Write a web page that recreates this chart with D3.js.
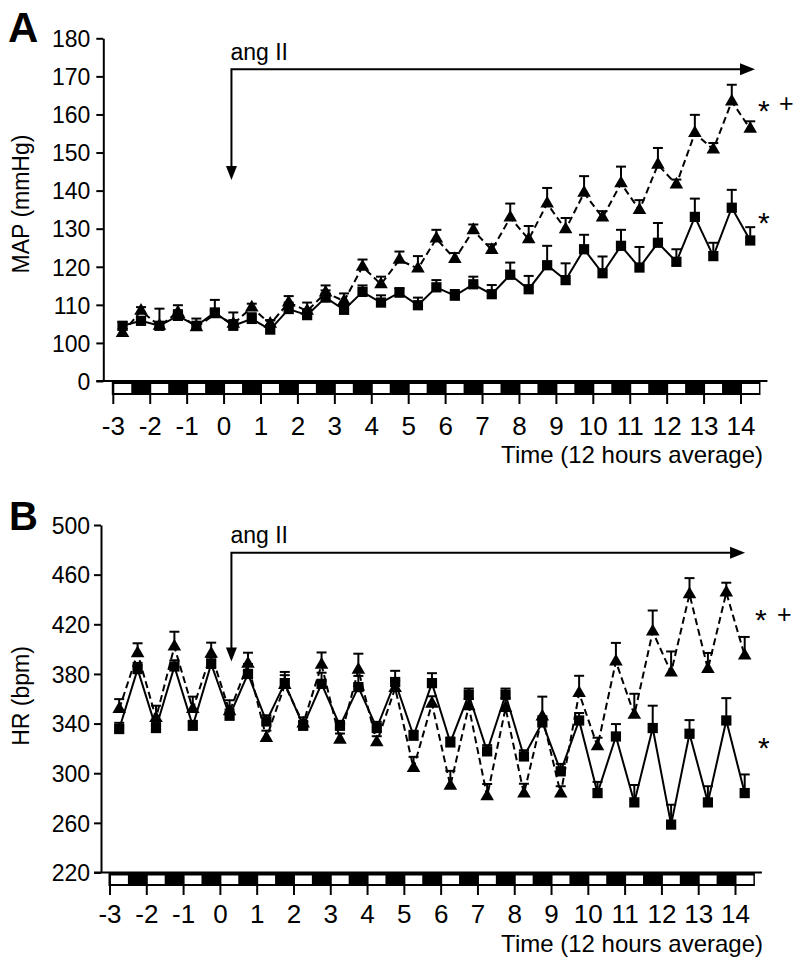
<!DOCTYPE html>
<html><head><meta charset="utf-8">
<script src="https://cdn.jsdelivr.net/npm/d3@7"></script>
<style>
html,body{margin:0;padding:0;background:#fff}
svg{display:block}
text{font-family:"Liberation Sans",Arial,Helvetica,sans-serif;fill:#000}
</style>
</head><body>
<svg id="c" width="800" height="969"></svg>
<script>
// ---- data ----
const timePts = [-2.75,-2.25,-1.75,-1.25,-0.75,-0.25,0.25,0.75,1.25,1.75,2.25,2.75,3.25,3.75,4.25,4.75,5.25,5.75,6.25,6.75,7.25,7.75,8.25,8.75,9.25,9.75,10.25,10.75,11.25,11.75,12.25,12.75,13.25,13.75,14.25];
const dayTicks = [-3,-2,-1,0,1,2,3,4,5,6,7,8,9,10,11,12,13,14];
const dayTickLabels = ["-3","-2","-1","0","1","2","3","4","5","6","7","8","9","10","11","12","13","14"];
const mapTicks = [90,100,110,120,130,140,150,160,170,180];
const mapTickLabels = ["0","100","110","120","130","140","150","160","170","180"];
const hrTicks = [220,260,300,340,380,420,460,500];
const hrTickLabels = ["220","260","300","340","380","420","460","500"];

const mapSquare = [104.5,105.8,104.5,107.1,104.5,108.0,104.5,106.3,103.5,108.9,107.3,111.9,108.7,113.4,110.6,113.2,109.9,114.6,112.4,115.4,112.8,117.9,114.1,120.4,116.5,124.6,118.3,125.5,119.8,126.3,121.3,133.1,122.8,135.5,126.9];
const mapSquareErr = [1,1,4.5,1.5,1.9,3.3,1.5,1.5,2.4,1.7,1.5,1.9,1.5,1.7,1.9,1.2,2.0,1.9,1.5,2.0,2.4,3.2,3.5,5.1,4.4,3.8,4.4,4.2,5.4,5.2,3.3,4.8,3.5,4.7,3.5];
const mapTriangle = [102.6,108.4,104.5,108.0,104.1,107.5,105,109.3,105,110.6,108.4,113.2,111.0,120.0,115.4,121.8,119.5,127.4,122.0,129.6,124.4,132.9,127.2,136.6,129.8,139.4,132.9,141.9,134.9,146.8,141.6,155.1,150.8,163.4,156.2];
const mapTriangleErr = [1,1,1,1.9,1,1,3,1,1,1.7,2.2,1.9,2,1.9,2,2.2,3.3,2.3,1.6,1.5,1.5,3.7,3.5,4.1,3.0,4.4,1.7,4.4,2.6,4.4,1.3,4.8,1.7,4.4,2.0];

const hrSquare = [335.6,383.9,336.4,386,338.2,388.1,346.3,380,341.7,372.6,338.2,372,338.2,369.4,336.4,373.5,330.2,372.6,324.8,363.2,317.6,363.2,313.5,340.9,301.5,342.5,284,329.6,276.5,336.4,258.6,331.8,276.5,342.5,284];
const hrSquareErr = [5,5,4,5,4,5,5,8,5,9,4,9,4,9,5,9,4,8,4,5,5,5,5,5,6,6,9,10,14,18,16,11,13,18,15];
const hrTriangle = [351.7,396.7,344.4,402,351.7,396.2,349.8,388.1,328.3,371,340,387.3,327,383.3,324.8,368.6,304.2,356,289.9,353.8,281.3,352.5,283.5,345.7,283.5,364.5,321.6,390,347,414.1,381.1,444.2,383.9,445.5,394.8];
const hrTriangleErr = [8,8,10,12,10,9,9,9,6,8,5,10,5,13,5,6,9,6,12,6,10,8,8,16,6,14,7,15,17,17,17,13,13,8,15];

// ---- drawing ----
const svg = d3.select('#c');

function drawPanel(o) {
  const g = svg.append('g');
  const x = o.x, y = o.y;
  const base = y.range()[0];

  // connecting lines
  const line = d3.line().x((d,i)=>x(timePts[i])).y(d=>y(d));
  g.append('path').datum(o.tri).attr('d', line)
    .attr('fill','none').attr('stroke','#000').attr('stroke-width',2).attr('stroke-dasharray','7,4');
  g.append('path').datum(o.sq).attr('d', line)
    .attr('fill','none').attr('stroke','#000').attr('stroke-width',2);

  // error bars (upper)
  function errBars(vals, errs) {
    const eb = g.append('g').attr('stroke','#000').attr('stroke-width',2);
    vals.forEach((v,i)=>{
      const cx = x(timePts[i]), y0 = y(v), y1 = y(v+errs[i]);
      eb.append('line').attr('x1',cx).attr('x2',cx).attr('y1',y0).attr('y2',y1);
      eb.append('line').attr('x1',cx-5).attr('x2',cx+5).attr('y1',y1).attr('y2',y1);
    });
  }
  errBars(o.tri, o.triErr);
  errBars(o.sq, o.sqErr);

  // markers
  const triSym = d3.symbol().type(d3.symbolTriangle).size(80);
  const sqSym = d3.symbol().type(d3.symbolSquare).size(105);
  g.append('g').selectAll('path').data(o.tri).join('path')
    .attr('d', triSym).attr('transform',(d,i)=>`translate(${x(timePts[i])},${y(d)})`).attr('fill','#000');
  g.append('g').selectAll('path').data(o.sq).join('path')
    .attr('d', sqSym).attr('transform',(d,i)=>`translate(${x(timePts[i])},${y(d)})`).attr('fill','#000');

  // y axis
  const yAxis = d3.axisLeft(y).tickValues(o.yTicks).tickFormat((d,i)=>o.yTickLabels[i])
    .tickSize(7).tickSizeOuter(0).tickPadding(o.tickPad);
  const ya = g.append('g').attr('transform',`translate(${o.axisX},0)`).call(yAxis);
  ya.attr('font-size',null).attr('font-family',null);
  ya.select('.domain').attr('stroke-width',2);
  ya.selectAll('.tick line').attr('stroke-width',2);
  ya.selectAll('.tick text').attr('font-size',23).attr('dy','0.36em');

  // horizontal axis line
  g.append('line').attr('x1',o.axisX-7).attr('x2',x(14.5)+8).attr('y1',base).attr('y2',base)
    .attr('stroke','#000').attr('stroke-width',2);

  // light/dark bar
  const barTop = base, barH = o.barH;
  g.append('rect').attr('x',x(-3)-1.5).attr('y',barTop).attr('width',x(14.5)+1-(x(-3)-1.5)).attr('height',barH).attr('fill','#000');
  g.append('g').selectAll('rect').data(dayTicks).join('rect')
    .attr('x',d=>x(d)+1).attr('y',barTop+3).attr('width',d=>x(d+0.5)-x(d)-1.5).attr('height',barH-5)
    .attr('fill','#fff');

  // x ticks
  g.append('g').selectAll('line').data(dayTicks).join('line')
    .attr('x1',d=>x(d)).attr('x2',d=>x(d)).attr('y1',barTop+barH).attr('y2',barTop+barH+9)
    .attr('stroke','#000').attr('stroke-width',2);
  g.append('g').selectAll('text').data(dayTicks).join('text')
    .attr('x',d=>x(d)).attr('y',o.tickLabelY).attr('text-anchor','middle').attr('font-size',26)
    .text((d,i)=>dayTickLabels[i]);

  // axis titles
  g.append('text').attr('x',763).attr('y',o.titleY).attr('text-anchor','end').attr('font-size',24)
    .text('Time (12 hours average)');
  g.append('text').attr('transform',`translate(29,${o.yTitleY}) rotate(-90)`).attr('text-anchor','middle')
    .attr('font-size',23).text(o.yTitle);

  // panel letter
  g.append('text').attr('x',o.letterX).attr('y',o.letterY).attr('font-size',o.letterSize).attr('font-weight','bold')
    .text(o.letter);

  // ang II annotation
  const ax = x(o.arrowT), ay = y(o.arrowV), tipY = y(o.arrowTipV), tipX = x(o.arrowEndT);
  g.append('text').attr('x',ax-1).attr('y',y(o.labelV)).attr('font-size',23).text('ang II');
  g.append('path').attr('d',`M${ax},${tipY-12}V${ay}H${tipX-13}`).attr('fill','none')
    .attr('stroke','#000').attr('stroke-width',2);
  g.append('path').attr('d',`M${ax-5.5},${tipY-14}L${ax+5.5},${tipY-14}L${ax},${tipY}Z`).attr('fill','#000');
  g.append('path').attr('d',`M${tipX-15},${ay-6}L${tipX-15},${ay+6}L${tipX},${ay}Z`).attr('fill','#000');

  // significance marks
  o.marks.forEach(m=>{
    g.append('text').attr('x',m.x).attr('y',m.y).attr('font-size',m.s).text(m.t);
  });
}

drawPanel({
  x: d3.scaleLinear().domain([-3,14]).range([113.3,741]),
  y: d3.scaleLinear().domain([90,180]).range([381,38.3]),
  sq: mapSquare, sqErr: mapSquareErr, tri: mapTriangle, triErr: mapTriangleErr,
  yTicks: mapTicks, yTickLabels: mapTickLabels, axisX: 103.3, tickPad: 6,
  barH: 14, tickLabelY: 435, titleY: 463,
  yTitle: 'MAP (mmHg)', yTitleY: 204,
  letter: 'A', letterX: 8, letterY: 41.7, letterSize: 42,
  arrowT: 0.2, arrowV: 171.9, arrowTipV: 142.8, arrowEndT: 14.38, labelV: 174.3,
  marks: [{t:'*',x:758,y:121,s:30},{t:'+',x:779,y:112,s:25},{t:'*',x:758,y:232.5,s:30}]
});

drawPanel({
  x: d3.scaleLinear().domain([-3,14]).range([110,735.5]),
  y: d3.scaleLinear().domain([220,500]).range([872.5,525]),
  sq: hrSquare, sqErr: hrSquareErr, tri: hrTriangle, triErr: hrTriangleErr,
  yTicks: hrTicks, yTickLabels: hrTickLabels, axisX: 101, tickPad: 4,
  barH: 13.5, tickLabelY: 923, titleY: 951.5,
  yTitle: 'HR (bpm)', yTitleY: 696,
  letter: 'B', letterX: 9, letterY: 530, letterSize: 40,
  arrowT: 0.3, arrowV: 477.7, arrowTipV: 390, arrowEndT: 14.26, labelV: 485.8,
  marks: [{t:'*',x:755,y:629.5,s:30},{t:'+',x:777,y:623,s:25},{t:'*',x:758,y:758,s:30}]
});
</script>
</body></html>
